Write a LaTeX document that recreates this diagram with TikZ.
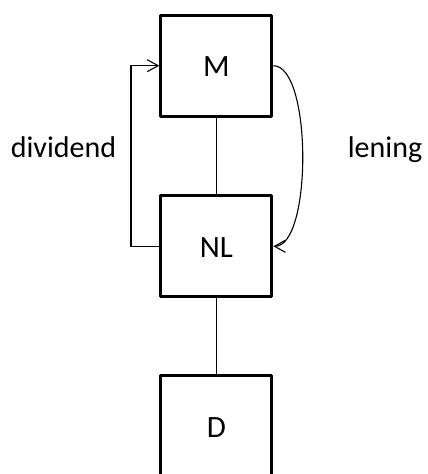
\documentclass[tikz,border=0pt]{standalone}
\usepackage{fontspec}
\setmainfont{Carlito}
\usetikzlibrary{arrows.meta}
\begin{document}
\begin{tikzpicture}[x=1pt,y=1pt,
  box/.style={draw, line width=3pt, line join=round, minimum width=111pt, minimum height=101pt,
    inner sep=0pt, text height=22.5pt, text depth=0pt, font=\fontsize{31}{37}\selectfont},
  conn/.style={line width=1.1pt},
  tip/.style={-{Straight Barb[length=11pt,width=12pt]}},
  lbl/.style={font=\fontsize{30}{36}\selectfont, anchor=base, inner sep=0pt}]
\path[use as bounding box, clip] (0,0) rectangle (428,474);
\node[box] (M) at (216.3,408.3) {M};
\node[box] (NL) at (216.3,227.7) {NL};
\node[box] (D) at (216.3,48) {D};
\draw[conn] (M.south) -- (NL.north);
\draw[conn] (NL.south) -- (D.north);
\draw[conn,tip] (NL.west) -- ++(-28.3,0) |- (M.west);
\draw[conn,tip] (M.east) .. controls +(39,0) and +(39,0) .. (NL.east);
\node[lbl] (div) at (63.5,316.5) {dividend};
\node[lbl] (len) at (385,316.5) {lening};
\end{tikzpicture}
\end{document}
